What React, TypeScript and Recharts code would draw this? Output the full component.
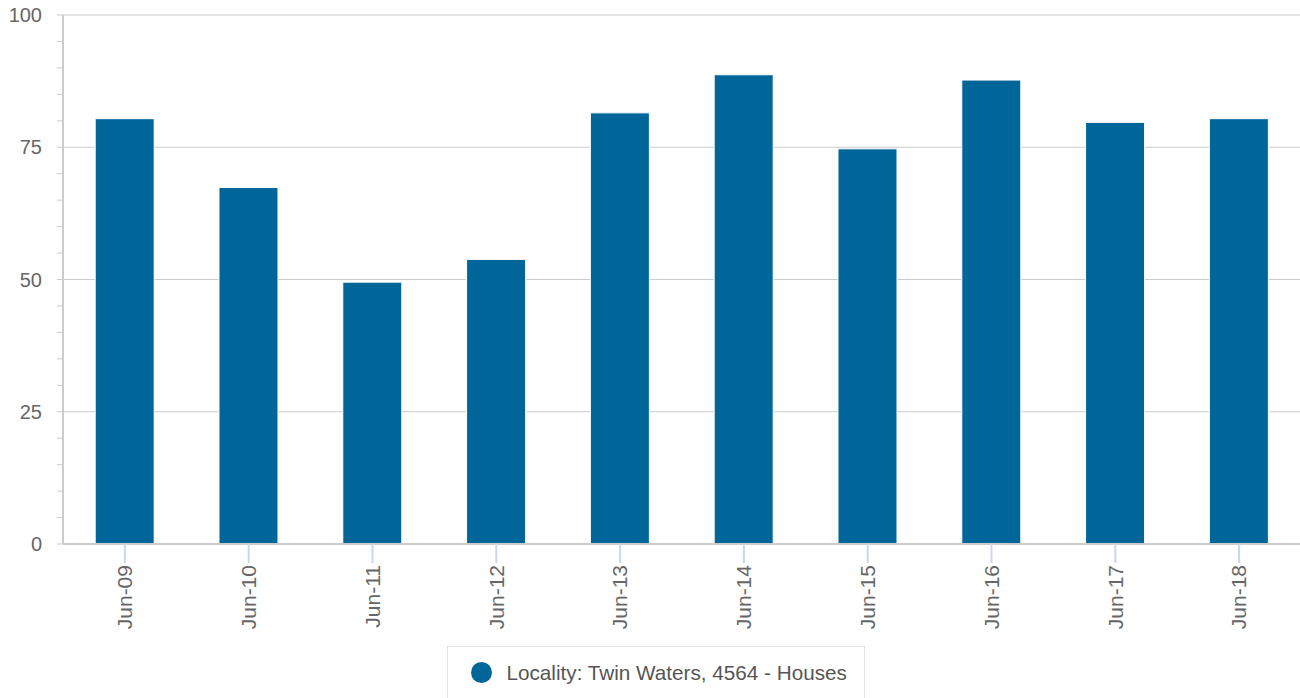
import React from "react";
import { BarChart, Bar, XAxis, YAxis, CartesianGrid, Legend } from "recharts";

const categories = ["Jun-09", "Jun-10", "Jun-11", "Jun-12", "Jun-13", "Jun-14", "Jun-15", "Jun-16", "Jun-17", "Jun-18"];
const values = [80.4, 67.4, 49.5, 53.8, 81.5, 88.7, 74.7, 87.7, 79.7, 80.4];
const yTicks = [0, 5, 10, 15, 20, 25, 30, 35, 40, 45, 50, 55, 60, 65, 70, 75, 80, 85, 90, 95, 100];
const yMajorTicks = [0, 25, 50, 75, 100];
const seriesName = "Locality: Twin Waters, 4564 - Houses";

const data = categories.map((c, i) => ({ name: c, value: values[i] }));

const FONT = "'Liberation Sans', Arial, sans-serif";
const TEXT = "#666666";
const BAR = "#006699";

const YTick = (props: any) => {
  const { x, y, payload } = props;
  if (!yMajorTicks.includes(payload.value)) return null;
  return (
    <text x={x} y={y} dy="0.35em" textAnchor="end" fill={TEXT} fontSize={20} fontFamily={FONT}>
      {payload.value}
    </text>
  );
};

const XTick = (props: any) => {
  const { x, y, payload } = props;
  return (
    <text
      x={x}
      y={y}
      dy="0.35em"
      textAnchor="end"
      fill={TEXT}
      fontSize={21}
      fontFamily={FONT}
      transform={`rotate(-90, ${x}, ${y})`}
    >
      {payload.value}
    </text>
  );
};

const LegendContent = () => (
  <div style={{ display: "flex", justifyContent: "center", marginLeft: 10 }}>
    <div
      style={{
        width: 418,
        height: 52,
        border: "1px solid #e3e3e3",
        borderBottom: "none",
        display: "flex",
        alignItems: "center",
        boxSizing: "border-box",
        paddingLeft: 23,
        fontFamily: FONT,
        fontSize: 20.7,
        color: "#555555",
      }}
    >
      <span
        style={{
          display: "inline-block",
          width: 21,
          height: 21,
          borderRadius: "50%",
          background: BAR,
          marginRight: 15,
        }}
      />
      <span>{seriesName}</span>
    </div>
  </div>
);

export default function App() {
  return (
    <div style={{ position: "absolute", left: 0, top: 0, width: 1300, height: 698, background: "#fff", overflow: "hidden" }}>
      <BarChart
        width={1301}
        height={698}
        data={data}
        margin={{ top: 15, right: 0, left: 0, bottom: 0 }}
        barCategoryGap="26%"
      >
        <CartesianGrid horizontal vertical={false} horizontalValues={yMajorTicks} stroke="#cccccc" strokeWidth={1} />
        <XAxis
          dataKey="name"
          height={102}
          axisLine={{ stroke: "#cccccc", strokeWidth: 2 }}
          tickLine={{ stroke: "#ccd6eb", strokeWidth: 2 }}
          tickSize={19}
          tickMargin={2}
          tick={<XTick />}
          interval={0}
        />
        <YAxis
          width={63}
          domain={[0, 100]}
          ticks={yTicks}
          interval={0}
          axisLine={{ stroke: "#cccccc", strokeWidth: 2 }}
          tickLine={{ stroke: "#cccccc", strokeWidth: 1 }}
          tickSize={6}
          tickMargin={15}
          tick={<YTick />}
        />
        <Bar dataKey="value" name={seriesName} fill={BAR} stroke="#ffffff" strokeWidth={1} isAnimationActive={false} />
        <Legend verticalAlign="bottom" content={<LegendContent />} />
      </BarChart>
    </div>
  );
}
